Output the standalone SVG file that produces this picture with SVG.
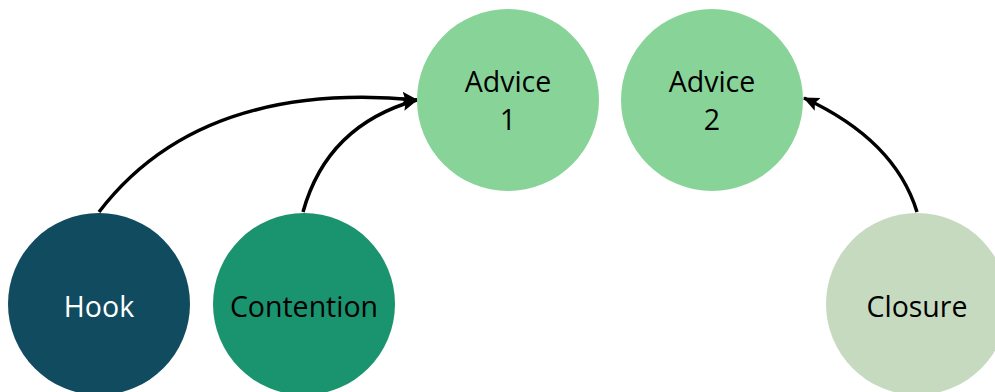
<svg xmlns="http://www.w3.org/2000/svg" width="995" height="392" viewBox="0 0 995 392">
<style>
.lbl{font-family:"Open Sans","Liberation Sans",sans-serif;font-size:28.5px;text-anchor:middle;fill:#000}
.conn{fill:none;stroke:#000;stroke-width:3.5}
</style>
<defs>
<marker id="ah" markerUnits="userSpaceOnUse" markerWidth="16" markerHeight="16" viewBox="0 0 16 16" refX="15" refY="8" orient="auto">
<path d="M0,1 L16,8 L0,15 L3,8 Z" fill="#000"/>
</marker>
</defs>
<rect width="995" height="392" fill="#fff"/>
<g id="connectors">
<path class="conn" d="M99,212 Q200,80 417,100" marker-end="url(#ah)"/>
<path class="conn" d="M303,212 Q327,125 417,100" marker-end="url(#ah)"/>
<path class="conn" d="M917,212 Q895,140 804,98" marker-end="url(#ah)"/>
</g>
<g id="hook">
<circle cx="99" cy="304" r="91" fill="#114b5f"/>
<text class="lbl" x="99" y="317" style="fill:#fff">Hook</text>
</g>
<g id="contention">
<circle cx="304" cy="304" r="91" fill="#1a936f"/>
<text class="lbl" x="304" y="317">Contention</text>
</g>
<g id="advice1">
<circle cx="508" cy="100" r="91" fill="#88d498"/>
<text class="lbl" x="508" y="92">Advice</text>
<text class="lbl" x="508" y="130">1</text>
</g>
<g id="advice2">
<circle cx="712" cy="100" r="91" fill="#88d498"/>
<text class="lbl" x="712" y="92">Advice</text>
<text class="lbl" x="712" y="130">2</text>
</g>
<g id="closure">
<circle cx="917" cy="304" r="91" fill="#c6dabf"/>
<text class="lbl" x="917" y="317">Closure</text>
</g>
</svg>
